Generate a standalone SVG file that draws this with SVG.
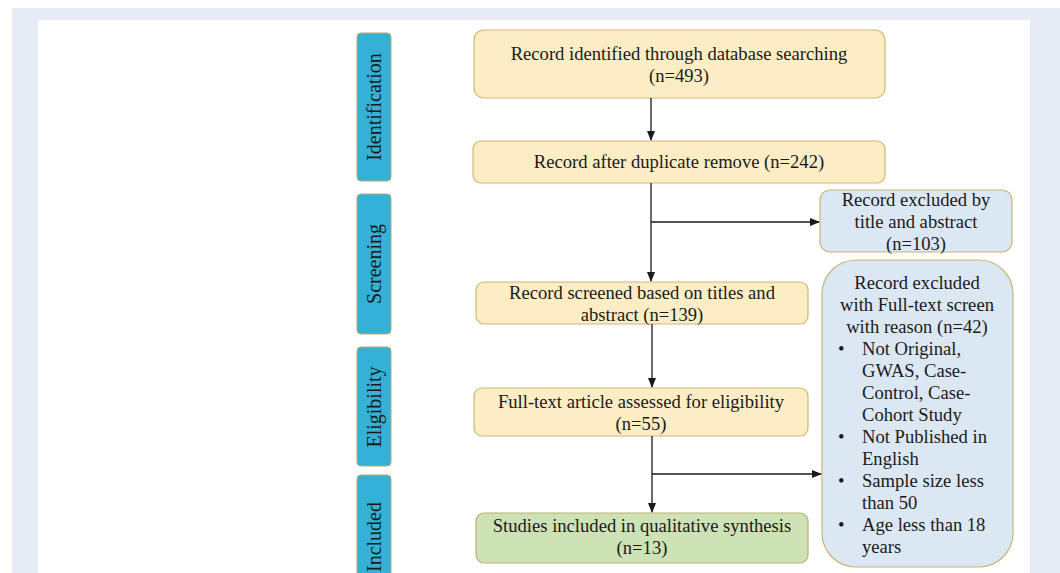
<svg xmlns="http://www.w3.org/2000/svg" width="1060" height="573" viewBox="0 0 1060 573">
<style>
text{font-family:"Liberation Serif","Times New Roman",serif;font-size:18.6px;fill:#1a1a1a}
.c{text-anchor:middle}
.phase text{font-size:20px}
.phase rect{fill:#33b1d6;stroke:#b8a970;stroke-width:1}
.main rect{fill:#fcedc5;stroke:#cdb676;stroke-width:1.2}
.green rect{fill:#cde2b5;stroke:#bdb073;stroke-width:1.2}
.excl rect{fill:#dbe7f2;stroke:#c7b57a;stroke-width:1.2}
.conn line{stroke:#1a1a1a;stroke-width:1.3;fill:none}
</style>
<defs>
<marker id="ah" markerWidth="10" markerHeight="8" refX="9" refY="4" orient="auto" markerUnits="userSpaceOnUse">
<path d="M0,0 L10,4 L0,8 Z" fill="#1a1a1a"/>
</marker>
</defs>
<rect x="0" y="0" width="1060" height="573" fill="#ffffff"/>
<rect x="12" y="8" width="1048" height="565" fill="#e7ebf6"/>
<rect x="38" y="20" width="992" height="553" fill="#ffffff"/>

<g id="phase-identification" class="phase">
<rect x="357" y="33" width="34" height="148" rx="4"/>
<text class="c" transform="translate(381,107) rotate(-90)">Identification</text>
</g>
<g id="phase-screening" class="phase">
<rect x="357" y="194" width="34" height="140" rx="4"/>
<text class="c" transform="translate(381,264) rotate(-90)">Screening</text>
</g>
<g id="phase-eligibility" class="phase">
<rect x="357" y="347" width="34" height="119" rx="4"/>
<text class="c" transform="translate(381,407) rotate(-90)">Eligibility</text>
</g>
<g id="phase-included" class="phase">
<rect x="357" y="475" width="34" height="110" rx="4"/>
<text class="c" transform="translate(381,537) rotate(-90)">Included</text>
</g>

<g id="box-identified" class="main">
<rect x="474" y="30" width="411" height="68" rx="10"/>
<text class="c" x="679" y="60">Record identified through database searching</text>
<text class="c" x="679" y="82">(n=493)</text>
</g>
<g id="box-duplicates" class="main">
<rect x="473" y="141" width="412" height="42" rx="8"/>
<text class="c" x="679" y="168">Record after duplicate remove (n=242)</text>
</g>
<g id="box-excluded-title" class="excl">
<rect x="820" y="190" width="192" height="62" rx="10"/>
<text class="c" x="916" y="206">Record excluded by</text>
<text class="c" x="916" y="228">title and abstract</text>
<text class="c" x="916" y="250">(n=103)</text>
</g>
<g id="box-screened" class="main">
<rect x="476" y="282" width="332" height="42" rx="8"/>
<text class="c" x="642" y="299">Record screened based on titles and</text>
<text class="c" x="642" y="321">abstract (n=139)</text>
</g>
<g id="box-excluded-fulltext" class="excl">
<rect x="822" y="260" width="191" height="307" rx="34"/>
<text class="c" x="917" y="289">Record excluded</text>
<text class="c" x="917" y="311">with Full-text screen</text>
<text class="c" x="917" y="333">with reason (n=42)</text>
<text x="838" y="355">•</text><text x="862" y="355">Not Original,</text>
<text x="862" y="377">GWAS, Case-</text>
<text x="862" y="399">Control, Case-</text>
<text x="862" y="421">Cohort Study</text>
<text x="838" y="443">•</text><text x="862" y="443">Not Published in</text>
<text x="862" y="465">English</text>
<text x="838" y="487">•</text><text x="862" y="487">Sample size less</text>
<text x="862" y="509">than 50</text>
<text x="838" y="531">•</text><text x="862" y="531">Age less than 18</text>
<text x="862" y="553">years</text>
</g>
<g id="box-fulltext" class="main">
<rect x="474" y="388" width="334" height="48" rx="8"/>
<text class="c" x="641" y="408">Full-text article assessed for eligibility</text>
<text class="c" x="641" y="430">(n=55)</text>
</g>
<g id="box-included" class="green">
<rect x="476" y="513" width="332" height="50" rx="8"/>
<text class="c" x="642" y="532">Studies included in qualitative synthesis</text>
<text class="c" x="642" y="554">(n=13)</text>
</g>

<g id="connectors" class="conn">
<line x1="651" y1="98" x2="651" y2="140" marker-end="url(#ah)"/>
<line x1="651" y1="183" x2="651" y2="281" marker-end="url(#ah)"/>
<line x1="651" y1="222" x2="819" y2="222" marker-end="url(#ah)"/>
<line x1="652" y1="324" x2="652" y2="387" marker-end="url(#ah)"/>
<line x1="652" y1="436" x2="652" y2="512" marker-end="url(#ah)"/>
<line x1="652" y1="474" x2="821" y2="474" marker-end="url(#ah)"/>
</g>
</svg>
